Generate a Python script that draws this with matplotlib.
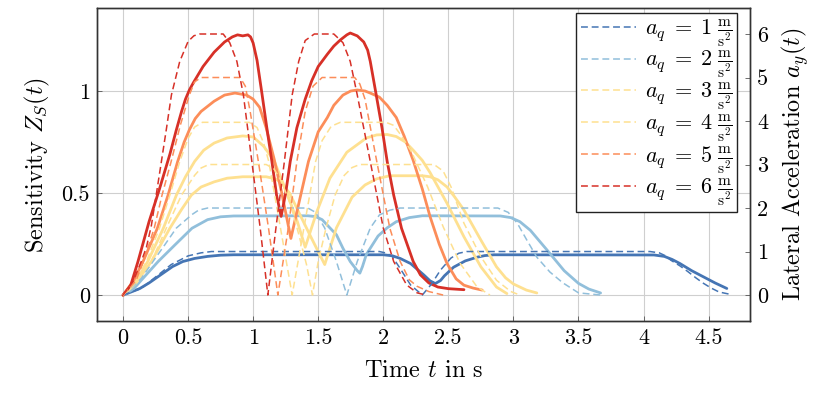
import matplotlib
matplotlib.use("Agg")
import matplotlib.pyplot as plt

plt.rcParams.update({
    "font.family": "serif",
    "font.serif": ["cmr10", "DejaVu Serif"],
    "mathtext.fontset": "cm",
    "axes.formatter.use_mathtext": True,
    "font.size": 17.5,
})

# ---------------- data ----------------
aq_values = [1, 2, 3, 4, 5, 6]
colors = ["#4575b4", "#91bfdb", "#fee090", "#fee090", "#fc8d59", "#d73027"]

# Sensitivity Z_S(t) (solid, left axis)
s1_t = [0, 0.13, 0.2, 0.29, 0.38, 0.46, 0.55, 0.65, 0.75, 0.85, 2.0, 2.07, 2.13, 2.21, 2.31, 2.36, 2.4, 2.44, 2.47, 2.54, 2.63, 2.72, 2.78, 2.85, 4.08, 4.16, 4.22, 4.28, 4.37, 4.46, 4.55, 4.64]
s1_v = [0, 0.033, 0.06, 0.1, 0.14, 0.165, 0.18, 0.19, 0.196, 0.198, 0.198, 0.193, 0.18, 0.155, 0.1, 0.07, 0.057, 0.072, 0.095, 0.137, 0.168, 0.186, 0.194, 0.198, 0.197, 0.19, 0.175, 0.155, 0.12, 0.09, 0.06, 0.033]

s2_t = [0, 0.08, 0.154, 0.27, 0.4, 0.53, 0.65, 0.75, 0.85, 1.42, 1.48, 1.53, 1.57, 1.64, 1.69, 1.746, 1.8, 1.82, 1.84, 1.87, 1.96, 2.03, 2.1, 2.2, 2.3, 2.9, 2.98, 3.05, 3.13, 3.26, 3.39, 3.5, 3.58, 3.67]
s2_v = [0, 0.03, 0.083, 0.165, 0.247, 0.328, 0.37, 0.384, 0.388, 0.389, 0.385, 0.37, 0.343, 0.296, 0.23, 0.165, 0.12, 0.108, 0.14, 0.2, 0.29, 0.33, 0.36, 0.38, 0.389, 0.388, 0.38, 0.36, 0.318, 0.22, 0.12, 0.058, 0.03, 0.011]

s3_t = [0, 0.1, 0.218, 0.36, 0.45, 0.525, 0.6, 0.7, 0.8, 0.92, 1.1, 1.17, 1.21, 1.28, 1.34, 1.44, 1.55, 1.64, 1.76, 1.86, 1.95, 2.05, 2.3, 2.36, 2.42, 2.49, 2.55, 2.62, 2.75, 2.87, 2.94, 3.0, 3.1, 3.18]
s3_v = [0, 0.06, 0.165, 0.328, 0.42, 0.49, 0.53, 0.555, 0.573, 0.58, 0.58, 0.57, 0.555, 0.5, 0.42, 0.29, 0.15, 0.33, 0.48, 0.54, 0.57, 0.585, 0.585, 0.58, 0.565, 0.53, 0.48, 0.417, 0.27, 0.139, 0.085, 0.055, 0.025, 0.011]

s4_t = [0, 0.1, 0.19, 0.31, 0.41, 0.48, 0.55, 0.62, 0.7, 0.8, 0.92, 1.0, 1.08, 1.16, 1.26, 1.34, 1.4, 1.49, 1.59, 1.72, 1.87, 1.95, 2.03, 2.1, 2.17, 2.23, 2.3, 2.36, 2.49, 2.62, 2.75, 2.87, 2.95]
s4_v = [0, 0.07, 0.165, 0.328, 0.49, 0.58, 0.655, 0.71, 0.745, 0.77, 0.78, 0.775, 0.73, 0.66, 0.5, 0.36, 0.235, 0.41, 0.573, 0.7, 0.77, 0.785, 0.787, 0.777, 0.75, 0.71, 0.66, 0.6, 0.45, 0.286, 0.139, 0.04, 0.008]

s5_t = [0, 0.08, 0.154, 0.264, 0.346, 0.42, 0.47, 0.51, 0.555, 0.6, 0.7, 0.78, 0.86, 0.95, 1.0, 1.05, 1.1, 1.16, 1.22, 1.29, 1.36, 1.425, 1.5, 1.57, 1.62, 1.69, 1.75, 1.8, 1.86, 1.9, 1.97, 2.03, 2.1, 2.16, 2.23, 2.3, 2.36, 2.43, 2.49, 2.56, 2.62, 2.69, 2.76]
s5_v = [0, 0.07, 0.165, 0.328, 0.49, 0.655, 0.75, 0.81, 0.865, 0.9, 0.95, 0.98, 0.99, 0.98, 0.96, 0.92, 0.82, 0.67, 0.5, 0.278, 0.475, 0.655, 0.8, 0.87, 0.93, 0.98, 1.0, 1.005, 1.0, 0.99, 0.97, 0.93, 0.87, 0.78, 0.66, 0.52, 0.384, 0.25, 0.155, 0.08, 0.049, 0.035, 0.025]

s6_t = [0, 0.06, 0.115, 0.2, 0.28, 0.36, 0.41, 0.45, 0.48, 0.51, 0.54, 0.615, 0.7, 0.78, 0.84, 0.88, 0.92, 0.96, 0.98, 1.0, 1.03, 1.067, 1.105, 1.144, 1.18, 1.215, 1.25, 1.285, 1.336, 1.4, 1.45, 1.5, 1.57, 1.62, 1.67, 1.72, 1.746, 1.8, 1.85, 1.88, 1.9, 1.946, 1.99, 2.03, 2.08, 2.14, 2.23, 2.285, 2.35, 2.42, 2.5, 2.62]
s6_v = [0, 0.05, 0.165, 0.36, 0.52, 0.69, 0.81, 0.9, 0.96, 1.005, 1.04, 1.12, 1.19, 1.24, 1.265, 1.275, 1.27, 1.275, 1.265, 1.235, 1.15, 0.99, 0.82, 0.655, 0.49, 0.386, 0.5, 0.655, 0.82, 0.96, 1.05, 1.12, 1.18, 1.22, 1.25, 1.275, 1.284, 1.27, 1.24, 1.2, 1.145, 0.98, 0.82, 0.655, 0.49, 0.328, 0.165, 0.1, 0.06, 0.04, 0.032, 0.027]

# Lateral acceleration a_y(t) (dashed, right axis)
a1_t = [0, 0.14, 0.24, 0.37, 0.5, 0.6, 0.68, 1.97, 2.03, 2.07, 2.13, 2.21, 2.3, 2.37, 2.44, 2.52, 2.58, 2.64, 4.05, 4.12, 4.17, 4.21, 4.28, 4.34, 4.4, 4.46, 4.52, 4.58, 4.66]
a1_v = [0, 0.15, 0.39, 0.7, 0.9, 0.97, 1.0, 1.0, 0.96, 0.88, 0.61, 0.23, 0.0, 0.25, 0.575, 0.85, 0.96, 1.0, 1.0, 0.97, 0.9, 0.8, 0.67, 0.54, 0.4, 0.27, 0.16, 0.07, 0.02]

a2_t = [0, 0.14, 0.23, 0.32, 0.41, 0.53, 0.58, 0.65, 1.42, 1.48, 1.55, 1.64, 1.72, 1.8, 1.9, 1.97, 2.05, 2.13, 2.88, 2.96, 3.03, 3.1, 3.18, 3.28, 3.38, 3.5, 3.67]
a2_v = [0, 0.38, 0.77, 1.15, 1.54, 1.85, 1.95, 2.0, 2.0, 1.9, 1.54, 0.77, 0.0, 0.77, 1.54, 1.84, 1.95, 2.0, 2.0, 1.9, 1.65, 1.28, 0.87, 0.53, 0.28, 0.05, 0.0]

a3_t = [0, 0.1, 0.218, 0.333, 0.45, 0.55, 0.6, 0.66, 1.1, 1.16, 1.22, 1.29, 1.35, 1.41, 1.456, 1.5, 1.56, 1.63, 1.7, 1.76, 1.82, 2.39, 2.46, 2.52, 2.62, 2.75, 2.87, 2.98, 3.05]
a3_v = [0, 0.3, 0.77, 1.54, 2.3, 2.75, 2.92, 3.0, 3.0, 2.9, 2.6, 2.05, 1.4, 0.7, 0.0, 0.77, 1.54, 2.3, 2.75, 2.93, 3.0, 3.0, 2.85, 2.49, 1.65, 0.88, 0.34, 0.08, 0.0]

a4_t = [0, 0.1, 0.18, 0.28, 0.36, 0.436, 0.5, 0.55, 0.61, 0.97, 1.03, 1.08, 1.12, 1.21, 1.3, 1.39, 1.48, 1.53, 1.6, 1.67, 2.02, 2.08, 2.13, 2.21, 2.34, 2.46, 2.59, 2.72, 2.82]
a4_v = [0, 0.35, 0.77, 1.54, 2.3, 3.07, 3.6, 3.86, 3.97, 3.97, 3.85, 3.5, 3.07, 1.54, 0.0, 1.54, 3.07, 3.55, 3.88, 3.97, 3.97, 3.9, 3.7, 3.33, 2.49, 1.57, 0.73, 0.19, 0.0]

a5_t = [0, 0.1, 0.16, 0.24, 0.3, 0.37, 0.44, 0.51, 0.55, 0.6, 0.9, 0.94, 0.977, 1.04, 1.118, 1.19, 1.27, 1.336, 1.4, 1.46, 1.53, 1.78, 1.82, 1.86, 1.95, 2.05, 2.13, 2.2, 2.26, 2.35, 2.46]
a5_v = [0, 0.33, 0.8, 1.54, 2.3, 3.07, 3.9, 4.6, 4.9, 5.0, 5.0, 4.8, 4.22, 3.07, 1.54, 0.0, 1.54, 3.07, 4.22, 4.8, 5.0, 5.0, 4.85, 4.5, 3.07, 1.54, 0.77, 0.35, 0.2, 0.08, 0.0]

a6_t = [0, 0.077, 0.14, 0.18, 0.218, 0.255, 0.295, 0.335, 0.372, 0.436, 0.5, 0.545, 0.59, 0.77, 0.82, 0.875, 0.925, 0.99, 1.054, 1.113, 1.175, 1.24, 1.3, 1.35, 1.4, 1.47, 1.62, 1.69, 1.746, 1.8, 1.9, 2.0, 2.08, 2.18, 2.26, 2.33]
a6_v = [0, 0.31, 0.77, 1.1, 1.6, 2.3, 3.07, 3.85, 4.6, 5.37, 5.83, 5.96, 6.0, 6.0, 5.8, 5.37, 4.6, 3.07, 1.54, 0.0, 1.54, 3.07, 4.6, 5.37, 5.85, 6.0, 6.0, 5.8, 5.37, 4.6, 3.07, 1.54, 0.77, 0.23, 0.05, 0.0]

sens_t = [s1_t, s2_t, s3_t, s4_t, s5_t, s6_t]
sens_v = [s1_v, s2_v, s3_v, s4_v, s5_v, s6_v]
acc_t = [a1_t, a2_t, a3_t, a4_t, a5_t, a6_t]
acc_v = [a1_v, a2_v, a3_v, a4_v, a5_v, a6_v]

x_ticks = [0, 0.5, 1, 1.5, 2, 2.5, 3, 3.5, 4, 4.5]
x_ticklabels = ["0", "0.5", "1", "1.5", "2", "2.5", "3", "3.5", "4", "4.5"]
yl_ticks = [0, 0.5, 1]
yl_ticklabels = ["0", "0.5", "1"]
yr_ticks = [0, 1, 2, 3, 4, 5, 6]

# ---------------- figure ----------------
fig = plt.figure(figsize=(8.29, 3.95), dpi=100)
ax1 = fig.add_axes([0.117, 0.187, 0.788, 0.793])
ax2 = ax1.twinx()

for t, v, c in zip(sens_t, sens_v, colors):
    ax1.plot(t, v, color=c, lw=2.0, solid_joinstyle="round", solid_capstyle="round", zorder=3)

handles = []
for t, v, c, aq in zip(acc_t, acc_v, colors, aq_values):
    h, = ax2.plot(t, v, color=c, lw=1.1, dashes=(4.5, 2.5),
                  label=r"$a_q\;=\;%d\;\frac{\mathrm{m}}{\mathrm{s}^2}$" % aq)
    handles.append(h)

ax1.set_xlim(-0.2, 4.82)
ax1.set_ylim(-0.127, 1.407)
ax2.set_ylim(-0.6, 6.6)

ax1.set_xticks(x_ticks)
ax1.set_xticklabels(x_ticklabels)
ax1.set_yticks(yl_ticks)
ax1.set_yticklabels(yl_ticklabels)
ax2.set_yticks(yr_ticks)
ax2.set_yticklabels([str(v) for v in yr_ticks])

ax1.grid(True, color="#cfcfcf", lw=0.8)
ax1.set_axisbelow(True)

for ax in (ax1, ax2):
    ax.tick_params(direction="in", length=3.5, width=0.6, color="#555555", pad=5,
                   labelsize=16)
    for s in ax.spines.values():
        s.set_linewidth(1.0)
        s.set_color("#333333")

ax1.set_xlabel(r"Time $t$ in s", labelpad=9)
ax1.set_ylabel(r"Sensitivity $Z_S(t)$", labelpad=7)
ax2.set_ylabel(r"Lateral Acceleration $a_y(t)$", labelpad=8)

leg = ax2.legend(handles=handles, loc="upper right", bbox_to_anchor=(0.98, 0.984),
                 borderaxespad=0, frameon=True, fancybox=False, framealpha=1,
                 edgecolor="#222222", handlelength=2.5, handletextpad=0.4,
                 labelspacing=0.02, borderpad=0.2, fontsize=16)
leg.get_frame().set_linewidth(1.0)

fig.savefig("out.png", dpi=100)
